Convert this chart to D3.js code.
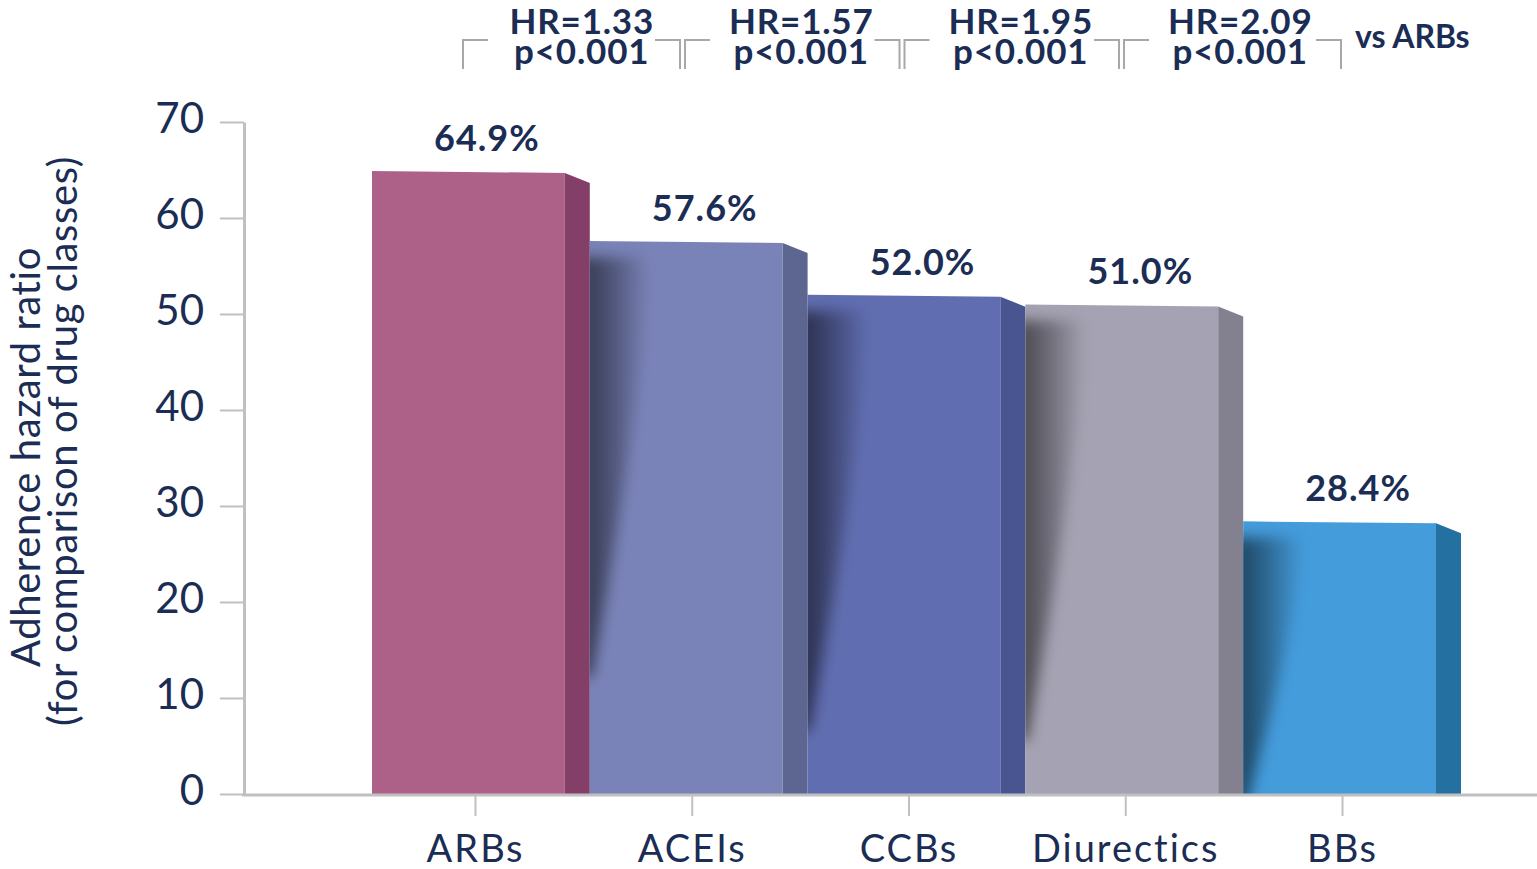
<!DOCTYPE html>
<html>
<head>
<meta charset="utf-8">
<script src="https://cdn.jsdelivr.net/npm/d3@7"></script>
<style>
  html, body { margin: 0; padding: 0; background: #fff; }
  svg { display: block; }
  text { font-family: "Lato", "Noto Sans", sans-serif; }
</style>
</head>
<body>
<svg id="chart" width="1537" height="869"></svg>
<script>
// ---- data ----
const categories = ["ARBs", "ACEIs", "CCBs", "Diurectics", "BBs"];
const values = [64.9, 57.6, 52.0, 51.0, 28.4];
const yTickValues = [0, 10, 20, 30, 40, 50, 60, 70];
const comparisons = ["ACEIs", "CCBs", "Diurectics", "BBs"];
const hrLabels = ["HR=1.33", "HR=1.57", "HR=1.95", "HR=2.09"];
const pLabels = ["p<0.001", "p<0.001", "p<0.001", "p<0.001"];
const yTitleLines = ["Adherence hazard ratio", "(for comparison of drug classes)"];
const vsLabel = "vs ARBs";

// ---- styles ----
const frontColors = ["#ad6188", "#7a83b8", "#606db0", "#a5a2b3", "#449cdb"];
const sideColors = ["#833f68", "#5c6690", "#485590", "#83808f", "#2470a0"];
const navy = "#1b2d54";
const axisGray = "#c0c0c0";

const svg = d3.select("#chart");
const defs = svg.append("defs");

const y = d3.scaleLinear().domain([0, 70]).range([794, 122]);
const x = d3.scaleBand().domain(categories).range([372, 1461]).padding(0);
const xp = d3.scalePoint().domain(categories).range([475, 1342]);
const xc = d3.scaleBand().domain(comparisons).range([463, 1341]).padding(0);
const sideW = 25;

// shadow gradient + blur
const grad = defs.append("linearGradient").attr("id", "shade")
  .attr("x1", "0%").attr("x2", "100%").attr("y1", "0%").attr("y2", "0%");
grad.append("stop").attr("offset", "0%").attr("stop-color", "#000").attr("stop-opacity", 0.6);
grad.append("stop").attr("offset", "45%").attr("stop-color", "#000").attr("stop-opacity", 0.35);
grad.append("stop").attr("offset", "100%").attr("stop-color", "#000").attr("stop-opacity", 0);
defs.append("filter").attr("id", "blur").attr("x", "-30%").attr("y", "-30%").attr("width", "160%").attr("height", "160%")
  .append("feGaussianBlur").attr("stdDeviation", 7);

const bars = svg.append("g");
categories.forEach((c, i) => {
  const x0 = x(c);
  const xf = x0 + x.bandwidth() - sideW;
  const xs = x0 + x.bandwidth();
  const t = y(values[i]);
  const b = y(0);
  const g = bars.append("g");
  // front face
  const frontPts = [[x0, t], [xf, t + 2], [xf, b], [x0, b]];
  g.append("path").attr("d", d3.line()(frontPts) + "Z").attr("fill", frontColors[i]);
  // shadow from previous bar
  if (i > 0) {
    defs.append("clipPath").attr("id", "clip" + i)
      .append("path").attr("d", d3.line()(frontPts) + "Z");
    const H = Math.min(b - t, 420);
    const s0 = t + 16;
    const p = d3.path();
    p.moveTo(x0 - 10, s0);
    p.lineTo(x0 + 60, s0);
    p.bezierCurveTo(x0 + 50, s0 + H * 0.35, x0 + 25, s0 + H * 0.7, x0 + 2, s0 + H);
    p.lineTo(x0 - 10, s0 + H);
    p.closePath();
    g.append("g").attr("clip-path", "url(#clip" + i + ")")
      .append("path").attr("d", p.toString())
      .attr("fill", "url(#shade)").attr("filter", "url(#blur)");
  }
  // side face
  const sidePts = [[xf, t + 2], [xs, t + 12], [xs, b], [xf, b]];
  g.append("path").attr("d", d3.line()(sidePts) + "Z").attr("fill", sideColors[i]);
  // value label
  g.append("text")
    .attr("x", x0 + x.bandwidth() / 2 + 6)
    .attr("y", t - 20)
    .attr("text-anchor", "middle")
    .attr("font-size", 36).attr("font-weight", 700).attr("letter-spacing", 1)
    .attr("fill", navy)
    .text(d3.format(".1f")(values[i]) + "%");
});

// y axis
const yAxis = svg.append("g").attr("transform", "translate(244,0)")
  .call(d3.axisLeft(y).tickValues(yTickValues).tickSize(24).tickSizeOuter(0).tickPadding(0));
yAxis.select(".domain").attr("stroke", axisGray).attr("stroke-width", 3);
yAxis.selectAll(".tick line").attr("stroke", axisGray).attr("stroke-width", 2);
yAxis.selectAll(".tick text")
  .attr("x", -40).attr("dy", "0.24em")
  .attr("font-size", 42).attr("fill", navy).attr("font-family", "Lato");

// x axis
svg.append("line").attr("x1", 242).attr("x2", 1537).attr("y1", 795).attr("y2", 795)
  .attr("stroke", axisGray).attr("stroke-width", 3);
const xAxis = svg.append("g").attr("transform", "translate(0,796)")
  .call(d3.axisBottom(xp).tickSize(20).tickSizeOuter(0));
xAxis.select(".domain").remove();
xAxis.selectAll(".tick line").attr("stroke", axisGray).attr("stroke-width", 2);
xAxis.selectAll(".tick text")
  .attr("y", 66).attr("dy", 0)
  .attr("font-size", 38).attr("letter-spacing", 2).attr("fill", navy).attr("font-family", "Lato");

// y title
yTitleLines.forEach((line, i) => {
  svg.append("text")
    .attr("transform", `translate(${i === 0 ? 40 : 77},${i === 0 ? 457 : 441}) rotate(-90)`)
    .attr("text-anchor", "middle")
    .attr("font-size", 40).attr("letter-spacing", 0.6)
    .attr("fill", navy)
    .text(line);
});

// comparison annotations
const ann = svg.append("g");
comparisons.forEach((c, k) => {
  const L = xc(c) + (k > 0 ? 2.5 : 0);
  const R = xc(c) + xc.bandwidth() - (k < comparisons.length - 1 ? 2.5 : 0);
  const yt = 40, yb = 69, h = 25;
  ann.append("path")
    .attr("d", `M${L},${yb}V${yt}H${L + h}M${R - h},${yt}H${R}V${yb}`)
    .attr("fill", "none").attr("stroke", "#a8a8a8").attr("stroke-width", 2);
  const cx = xc(c) + xc.bandwidth() / 2 + 9;
  ann.append("text").attr("x", cx).attr("y", 34).attr("text-anchor", "middle")
    .attr("font-size", 35).attr("font-weight", 700).attr("letter-spacing", 0.8)
    .attr("fill", navy).text(hrLabels[k]);
  ann.append("text").attr("x", cx).attr("y", 64).attr("text-anchor", "middle")
    .attr("font-size", 35).attr("font-weight", 700).attr("letter-spacing", 0.8)
    .attr("fill", navy).text(pLabels[k]);
});
ann.append("text").attr("x", 1355).attr("y", 48)
  .attr("font-size", 32).attr("font-weight", 700).attr("fill", navy).text(vsLabel);
</script>
</body>
</html>
